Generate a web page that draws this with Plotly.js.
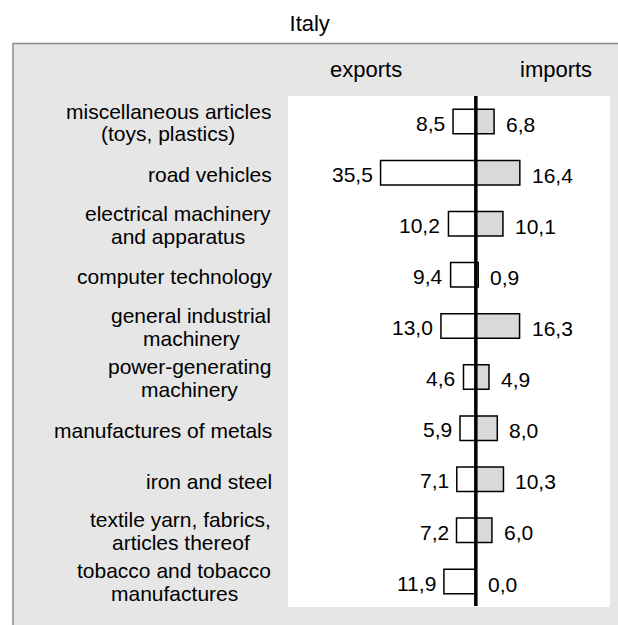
<!DOCTYPE html>
<html>
<head>
<meta charset="utf-8">
<script src="https://cdn.plot.ly/plotly-3.0.1.min.js"></script>
<style>html,body{margin:0;padding:0;background:#fff;}</style>
</head>
<body>
<div id="chart" style="width:618px;height:625px;"></div>
<script>
var categories = ["miscellaneous articles<br>(toys, plastics)", "road vehicles", "electrical machinery<br>and apparatus", "computer technology", "general industrial<br>machinery", "power-generating<br>machinery", "manufactures of metals", "iron and steel", "textile yarn, fabrics,<br>articles thereof", "tobacco and tobacco<br>manufactures"];
var exportsVals = [8.5, 35.5, 10.2, 9.4, 13.0, 4.6, 5.9, 7.1, 7.2, 11.9];
var importsVals = [6.8, 16.4, 10.1, 0.9, 16.3, 4.9, 8.0, 10.3, 6.0, 0.0];
var seriesNames = ["exports", "imports"];
var chartTitle = "Italy";

var W = 618, H = 625;
var L = 288, R = 8, T = 96, B = 18;
var PW = W - L - R, PH = H - T - B;
function px2x(px){ return (px - L) / PW; }
function py2y(py){ return (H - B - py) / PH; }
function fmt(v){ return v.toFixed(1).replace('.', ','); }

var FONT = 'Liberation Sans, Arial, sans-serif';
var FS_LBL = 21;   // category + value labels
var FS_HEAD = 22;  // title + column headers

var ctx = document.createElement('canvas').getContext('2d');
ctx.font = FS_LBL + "px 'Liberation Sans', Arial, sans-serif";
function textW(s){ return ctx.measureText(s).width; }

var traces = [
  {
    type: 'bar', orientation: 'h', name: seriesNames[0],
    y: categories, x: exportsVals.map(function(v){ return -v; }),
    width: 0.48,
    marker: {color: '#ffffff', line: {color: '#000000', width: 1.5}},
    hoverinfo: 'skip'
  },
  {
    type: 'bar', orientation: 'h', name: seriesNames[1],
    y: categories, x: importsVals,
    width: 0.48,
    marker: {color: '#d9d9d9', line: {color: '#000000', width: 1.5}},
    hoverinfo: 'skip'
  }
];

var LABEL_RIGHT = 271;
var annotations = [];
categories.forEach(function(c, i){
  var lines = c.split('<br>');
  if (lines.length === 1) {
    annotations.push({
      xref: 'paper', yref: 'y', x: px2x(LABEL_RIGHT + 3), y: c, xanchor: 'right', yanchor: 'middle',
      text: c, showarrow: false, yshift: -1.9,
      font: {family: FONT, size: FS_LBL, color: '#000'}
    });
  } else {
    var maxW = Math.max.apply(null, lines.map(textW));
    var cx = LABEL_RIGHT - maxW / 2;
    var shifts = [10.5, -12.3];
    lines.forEach(function(ln, k){
      annotations.push({
        xref: 'paper', yref: 'y', x: px2x(cx), y: c, xanchor: 'center', yanchor: 'middle',
        text: ln, showarrow: false, yshift: shifts[k],
        font: {family: FONT, size: FS_LBL, color: '#000'}
      });
    });
  }
  annotations.push({
    xref: 'x', yref: 'y', x: -exportsVals[i], y: c, xanchor: 'right', yanchor: 'middle',
    text: fmt(exportsVals[i]), showarrow: false, xshift: -6, yshift: -1.7,
    font: {family: FONT, size: FS_LBL, color: '#000'}
  });
  annotations.push({
    xref: 'x', yref: 'y', x: importsVals[i], y: c, xanchor: 'left', yanchor: 'middle',
    text: fmt(importsVals[i]), showarrow: false, xshift: 10, yshift: -2.6,
    font: {family: FONT, size: FS_LBL, color: '#000'}
  });
});
annotations.push({
  xref: 'paper', yref: 'paper', x: px2x(365.5), y: py2y(69.7), xanchor: 'center', yanchor: 'middle',
  text: seriesNames[0], showarrow: false, font: {family: FONT, size: FS_HEAD, color: '#000'}
});
annotations.push({
  xref: 'paper', yref: 'paper', x: px2x(556), y: py2y(69.7), xanchor: 'center', yanchor: 'middle',
  text: seriesNames[1], showarrow: false, font: {family: FONT, size: FS_HEAD, color: '#000'}
});

var shapes = [
  {type: 'rect', xref: 'paper', yref: 'paper', layer: 'below',
   x0: px2x(13), x1: px2x(640), y0: py2y(650), y1: py2y(43.5),
   fillcolor: '#e6e6e6', line: {color: '#8c8c8c', width: 1.5}},
  {type: 'rect', xref: 'paper', yref: 'paper', layer: 'below',
   x0: 0, x1: 1, y0: 0, y1: 1,
   fillcolor: '#ffffff', line: {width: 0}},
  {type: 'line', xref: 'x', yref: 'paper', layer: 'above',
   x0: 0, x1: 0, y0: py2y(606), y1: py2y(96),
   line: {color: '#000000', width: 3.5}}
];

var layout = {
  width: W, height: H,
  margin: {l: L, r: R, t: T, b: B, pad: 0},
  paper_bgcolor: '#ffffff', plot_bgcolor: '#ffffff',
  showlegend: false,
  barmode: 'overlay',
  title: {text: chartTitle, x: 309.7 / W, xref: 'container', xanchor: 'center',
          y: 1 - 23/H, yref: 'container', yanchor: 'middle',
          font: {family: FONT, size: FS_HEAD, color: '#000'}},
  xaxis: {range: [-70, 50], showgrid: false, zeroline: false, showticklabels: false, showline: false, ticks: '', fixedrange: true},
  yaxis: {type: 'category', range: [9.5, -0.5], showgrid: false, zeroline: false, showticklabels: false, showline: false, ticks: '', fixedrange: true},
  annotations: annotations,
  shapes: shapes
};

Plotly.newPlot('chart', traces, layout, {displayModeBar: false, staticPlot: true});
</script>
</body>
</html>
